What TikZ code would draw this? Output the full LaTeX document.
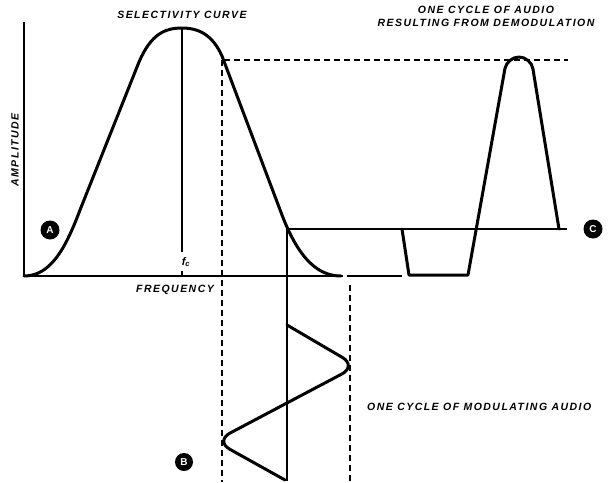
\documentclass[tikz,border=0pt]{standalone}
\usepackage{fontspec}
\setmainfont{Liberation Sans}
\begin{document}
\begin{tikzpicture}[x=1pt,y=-1pt,
  lbl/.style={font=\fontsize{10.5}{13}\selectfont\bfseries\itshape\addfontfeature{LetterSpace=14}, inner sep=0pt, align=center},
  thickc/.style={line width=3pt, line cap=round, line join=round},
  thin/.style={line width=1.1pt},
  dsh/.style={line width=1.1pt, dash pattern=on 6pt off 4pt},
  badge/.style={circle, fill=black, text=white, minimum size=19pt, inner sep=0pt, font=\fontsize{10}{11}\selectfont\bfseries}]
\useasboundingbox (0,0) rectangle (613,482);
% axes
\draw[thin] (24,22) -- (24,276) -- (343,276);
\draw[thin] (347,276) -- (402,276);
% center line
\draw[thin] (182,28) -- (182,252);
\draw[thin] (182,271) -- (182,276);
% selectivity curve
\draw[thickc] (24,276) .. controls (50,276) and (65,250) .. (80,210) -- (139,62)
  .. controls (151,34) and (165,28) .. (182,28) .. controls (200,28) and (213,36) .. (222,56)
  -- (282,215) .. controls (300,262) and (320,276) .. (341,276);
% projection lines
\draw[dsh] (224,60) -- (568,60);
\draw[thin] (288,229) -- (567,229);
\draw[dsh] (222,60) -- (222,482);
\draw[thin] (287,229) -- (287,481);
\draw[dsh] (350,285) -- (350,482);
% modulating audio (B)
\draw[thickc] (287,325) [rounded corners=17pt]-- (357,366) -- (215,441) [sharp corners]-- (285,480);
% demodulated audio (C)
\draw[thickc] (402,229) -- (409,275) -- (468,275) [rounded corners=12pt]-- (507,57) -- (531,57) [sharp corners]-- (559,229);
% labels
\node[lbl] (sel) at (182,15) {SELECTIVITY CURVE};
\node[lbl] (one) at (486,16) {ONE CYCLE OF AUDIO\\RESULTING FROM DEMODULATION};
\node[lbl, rotate=90] (amp) at (15,150) {AMPLITUDE};
\node[lbl] (freq) at (175,290) {FREQUENCY};
\node[lbl, anchor=west] (mod) at (367,407) {ONE CYCLE OF MODULATING AUDIO};
\node[inner sep=0pt, font=\fontsize{11}{13}\selectfont\bfseries\itshape] (fc) at (186,262) {f\textsubscript{c}};
\node[badge] (A) at (50,230) {A};
\node[badge, minimum size=18pt] (B) at (184,462) {B};
\node[badge] (C) at (593,229) {C};
\end{tikzpicture}
\end{document}
